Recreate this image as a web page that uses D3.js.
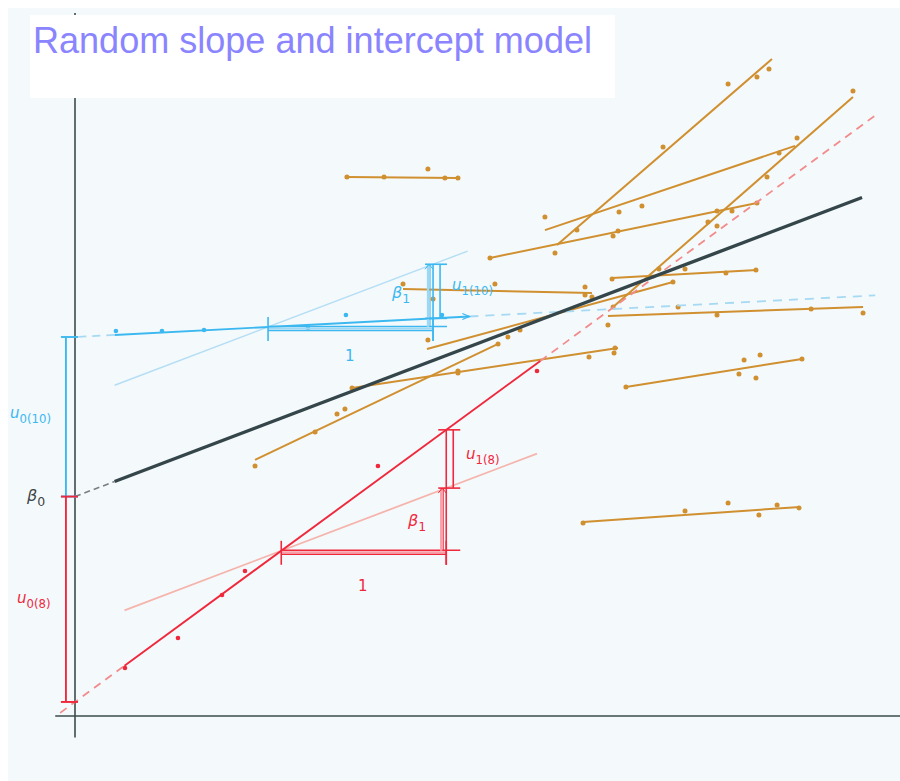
<!DOCTYPE html>
<html>
<head>
<meta charset="utf-8">
<script src="https://cdn.jsdelivr.net/npm/d3@7"></script>
<style>
  html, body { margin: 0; padding: 0; background: #ffffff; }
  svg { display: block; }
</style>
</head>
<body>
<svg id="chart" width="900" height="781"></svg>
<script>
// Fixed part of the model: overall intercept and slope
const fixedEffects = [1.33, 0.38];           // [beta0, beta1]
// Group-specific intercept and slope for the two highlighted groups
const group8Coef = [0.085, 0.733];
const group10Coef = [2.297, 0.052];
// Observations of the highlighted groups [x, y]
const group8Points = [[0.303, 0.291], [0.624, 0.473], [0.891, 0.733], [1.030, 0.879], [1.836, 1.515], [2.800, 2.091]];
const group10Points = [[0.248, 2.333], [0.527, 2.333], [0.782, 2.339], [1.412, 2.352], [1.642, 2.430], [2.224, 2.430]];
// Fitted line segments of the remaining groups [x0, y0, x1, y1]
const otherLines = [
  [2.921, 2.855, 4.224, 3.982],
  [2.848, 2.945, 4.364, 3.455],
  [2.515, 2.776, 4.133, 3.109],
  [3.261, 2.479, 4.715, 3.752],
  [3.255, 2.655, 4.133, 2.703],
  [1.091, 1.552, 2.564, 2.255],
  [3.230, 2.424, 4.776, 2.479],
  [1.988, 2.588, 3.133, 2.564],
  [1.648, 3.267, 2.321, 3.261],
  [3.339, 1.994, 4.406, 2.164],
  [3.079, 1.176, 4.394, 1.267],
  [1.679, 1.988, 3.291, 2.230],
  [2.133, 2.224, 3.624, 2.630]
];
// Observations of the remaining groups, one list per line above
const otherPoints = [
  [[2.909, 2.806], [3.042, 2.945], [3.564, 3.448], [3.958, 3.830], [4.133, 3.873], [4.206, 3.921]],
  [[2.848, 3.024], [3.297, 3.055], [3.436, 3.091], [4.267, 3.412], [4.376, 3.503]],
  [[2.515, 2.776], [3.261, 2.909], [3.291, 2.939], [3.891, 3.061], [3.982, 3.061], [4.133, 3.109]],
  [[3.261, 2.479], [3.539, 2.709], [3.836, 2.994], [3.891, 2.970], [4.194, 3.267], [4.715, 3.788]],
  [[3.255, 2.648], [3.697, 2.709], [3.945, 2.685], [4.127, 2.703]],
  [[1.091, 1.515], [1.455, 1.721], [1.588, 1.830], [1.636, 1.861], [2.321, 2.091], [2.564, 2.255]],
  [[3.230, 2.370], [3.655, 2.479], [3.891, 2.430], [4.461, 2.467], [4.776, 2.442]],
  [[1.988, 2.618], [2.170, 2.527], [2.545, 2.618], [3.091, 2.600], [3.091, 2.552], [3.133, 2.539]],
  [[1.648, 3.267], [1.873, 3.267], [2.139, 3.315], [2.242, 3.261], [2.321, 3.261]],
  [[3.339, 1.994], [4.024, 2.073], [4.055, 2.158], [4.127, 2.048], [4.152, 2.188], [4.406, 2.164]],
  [[3.079, 1.170], [3.697, 1.242], [3.958, 1.291], [4.145, 1.218], [4.255, 1.279], [4.388, 1.261]],
  [[1.679, 1.988], [2.321, 2.079], [3.115, 2.176], [3.267, 2.200], [3.273, 2.230]],
  [[2.139, 2.279], [2.624, 2.297], [2.697, 2.339], [3.624, 2.630]]
];
// Where each highlighted group shows its unit step
const triangleStart = [1.25, 1.17];          // [group 8, group 10]
// x extents: solid parts of the fitted lines
const solidRange = [0.24, 4.77];             // overall line
const group8Solid = [0.30, 2.82];
const group10Solid = [0.24, 2.39];
const axisExtent = [-0.12, 5.0];             // x axis
const yAxisExtent = [-0.13, 4.26];           // y axis

const svg = d3.select("#chart");
const x = d3.scaleLinear().domain([0, 1]).range([75, 240]);
const y = d3.scaleLinear().domain([0, 1]).range([716, 551]);

const C = {
  bg: "#f4f9fc", axis: "#3d4b4b", mean: "#34464a", orange: "#d09030",
  red: "#f0283c", redLight: "#f5b4ac", redDash: "#f28c8c",
  blue: "#3cb8f0", blueLight: "#b4def4", blueDash: "#a6d9f3",
  title: "#8a84ff"
};

svg.append("rect").attr("x", 8).attr("y", 8).attr("width", 892).attr("height", 773).attr("fill", C.bg);

const fmean = (xx) => fixedEffects[0] + fixedEffects[1] * xx;
const f8 = (xx) => group8Coef[0] + group8Coef[1] * xx;
const f10 = (xx) => group10Coef[0] + group10Coef[1] * xx;

function seg(g, x0, y0, x1, y1, color, width, dash) {
  const l = g.append("line")
    .attr("x1", x(x0)).attr("y1", y(y0)).attr("x2", x(x1)).attr("y2", y(y1))
    .attr("stroke", color).attr("stroke-width", width).attr("stroke-linecap", "butt");
  if (dash) l.attr("stroke-dasharray", dash);
  return l;
}
function fline(g, f, x0, x1, color, width, dash) {
  return seg(g, x0, f(x0), x1, f(x1), color, width, dash);
}

// Axes
const axes = svg.append("g");
axes.append("line").attr("x1", x(0)).attr("x2", x(0)).attr("y1", y(yAxisExtent[1])).attr("y2", y(yAxisExtent[0]))
  .attr("stroke", C.axis).attr("stroke-width", 1.6);
axes.append("line").attr("x1", x(axisExtent[0])).attr("x2", x(axisExtent[1])).attr("y1", y(0)).attr("y2", y(0))
  .attr("stroke", C.axis).attr("stroke-width", 1.6);

// Title box
svg.append("rect").attr("x", 30).attr("y", 15).attr("width", 585).attr("height", 83).attr("fill", "#ffffff");
svg.append("text").attr("x", 33).attr("y", 53)
  .attr("font-family", "Liberation Sans, Arial, sans-serif").attr("font-size", 37)
  .attr("fill", C.title).attr("textLength", 559).attr("lengthAdjust", "spacingAndGlyphs")
  .text("Random slope and intercept model");

// Other groups
const og = svg.append("g");
otherLines.forEach((s, i) => {
  seg(og, s[0], s[1], s[2], s[3], C.orange, 2);
  og.selectAll(null).data(otherPoints[i]).enter().append("circle")
    .attr("cx", d => x(d[0])).attr("cy", d => y(d[1])).attr("r", 2.5).attr("fill", C.orange);
});

// Light reference lines with the overall slope through each triangle start
const ref = svg.append("g");
const t8 = triangleStart[0], t10 = triangleStart[1];
fline(ref, xx => f8(t8) + fixedEffects[1] * (xx - t8), group8Solid[0], 2.80, C.redLight, 1.8);
fline(ref, xx => f10(t10) + fixedEffects[1] * (xx - t10), 0.24, 2.38, C.blueLight, 1.4);

// Dashed extensions
fline(ref, f8, -0.09, group8Solid[0], C.redDash, 1.8, "8,6");
fline(ref, f8, group8Solid[1], 4.85, C.redDash, 1.8, "8,6");
fline(ref, f10, 0.02, group10Solid[0], C.blueDash, 1.8, "8,6");
fline(ref, f10, group10Solid[1], 4.85, C.blueDash, 1.8, "9,7");
fline(ref, fmean, 0, solidRange[0], "#777f80", 1.6, "6,4");

// Overall line
fline(svg, fmean, solidRange[0], solidRange[1], C.mean, 3.4);

// Group 8
const g8 = svg.append("g");
fline(g8, f8, group8Solid[0], group8Solid[1], C.red, 1.9);
g8.selectAll(null).data(group8Points).enter().append("circle")
  .attr("cx", d => x(d[0])).attr("cy", d => y(d[1])).attr("r", 2.3).attr("fill", C.red);

// Group 10
const g10 = svg.append("g");
fline(g10, f10, group10Solid[0], group10Solid[1], C.blue, 1.9);
g10.selectAll(null).data(group10Points).enter().append("circle")
  .attr("cx", d => x(d[0])).attr("cy", d => y(d[1])).attr("r", 2.3).attr("fill", C.blue);
// arrow tip at the end of the solid part
{
  const ex = x(group10Solid[1]), ey = y(f10(group10Solid[1]));
  g10.append("path").attr("d", `M${ex - 7},${ey - 3} L${ex},${ey} L${ex - 7},${ey + 3}`)
    .attr("fill", "none").attr("stroke", C.blue).attr("stroke-width", 1.3);
}

// Unit-step triangle for a group
function triangle(g, f, t0, color, light) {
  const xa = x(t0), xb = x(t0 + 1);
  const yb = y(f(t0));
  const yMean = y(f(t0) + fixedEffects[1]);
  const yGroup = y(f(t0 + 1));
  const w = 1.6;
  // double base line
  g.append("line").attr("x1", xa).attr("x2", xb + 14).attr("y1", yb - 0.5).attr("y2", yb - 0.5).attr("stroke", color).attr("stroke-width", w);
  g.append("line").attr("x1", xa).attr("x2", xb).attr("y1", yb + 3.5).attr("y2", yb + 3.5).attr("stroke", color).attr("stroke-width", w);
  g.append("line").attr("x1", xa).attr("x2", xb).attr("y1", yb + 1.5).attr("y2", yb + 1.5).attr("stroke", light).attr("stroke-width", 2);
  // end ticks
  [xa, xb].forEach(xx => g.append("line").attr("x1", xx).attr("x2", xx).attr("y1", yb - 10).attr("y2", yb + 14)
    .attr("stroke", color).attr("stroke-width", w));
  // beta1 rise (lighter, inner)
  g.append("line").attr("x1", xb - 5).attr("x2", xb - 5).attr("y1", yb).attr("y2", yMean).attr("stroke", light).attr("stroke-width", 2.4);
  g.append("line").attr("x1", xb - 3).attr("x2", xb - 3).attr("y1", yb).attr("y2", yMean).attr("stroke", color).attr("stroke-width", 1);
  g.append("path").attr("d", `M${xb - 8},${yMean + 5} L${xb - 4},${yMean} L${xb},${yMean + 5}`)
    .attr("fill", "none").attr("stroke", color).attr("stroke-width", 1);
  // full vertical to the group line
  const top = Math.min(yMean, yGroup);
  g.append("line").attr("x1", xb).attr("x2", xb).attr("y1", top).attr("y2", yb + 14).attr("stroke", color).attr("stroke-width", w);
  // group deviation bracket
  const xu = xb + 7;
  g.append("line").attr("x1", xu).attr("x2", xu).attr("y1", yMean).attr("y2", yGroup).attr("stroke", color).attr("stroke-width", w);
  g.append("line").attr("x1", xb - 8).attr("x2", xu + 7).attr("y1", yGroup).attr("y2", yGroup).attr("stroke", color).attr("stroke-width", w);
  g.append("line").attr("x1", xb - 8).attr("x2", xu + 7).attr("y1", yMean).attr("y2", yMean).attr("stroke", color).attr("stroke-width", w);
}
triangle(g8, f8, t8, C.red, "#f7a0a8");
triangle(g10, f10, t10, C.blue, "#9fd8f5");

// Intercept deviations on the left
const dev = svg.append("g");
const xd = x(-0.055);
function vbar(y0, y1, color) {
  dev.append("line").attr("x1", xd).attr("x2", xd).attr("y1", y(y0)).attr("y2", y(y1)).attr("stroke", color).attr("stroke-width", 1.9);
  [y0, y1].forEach(v => dev.append("line").attr("x1", xd - 5).attr("x2", x(0) + 3).attr("y1", y(v)).attr("y2", y(v))
    .attr("stroke", color).attr("stroke-width", 1.9));
}
vbar(fixedEffects[0], group10Coef[0], C.blue);
vbar(group8Coef[0], fixedEffects[0], C.red);

// Labels
const font = "DejaVu Sans, sans-serif";
function sublabel(px, py, main, sub, color, size, italicMain) {
  const t = svg.append("text").attr("x", px).attr("y", py).attr("font-family", font)
    .attr("font-size", size).attr("fill", color);
  t.append("tspan").attr("font-style", italicMain ? "italic" : "normal").text(main);
  t.append("tspan").attr("dy", size * 0.3).attr("font-size", size * 0.78).text(sub);
  return t;
}
sublabel(10, 418, "u", "0(10)", C.blue, 15, true);
sublabel(27, 501, "β", "0", "#3d4545", 16, true);
sublabel(17, 603, "u", "0(8)", C.red, 15, true);
sublabel(392, 298, "β", "1", C.blue, 16, true);
sublabel(452, 290, "u", "1(10)", C.blue, 15, true);
sublabel(408, 526, "β", "1", C.red, 16, true);
sublabel(466, 459, "u", "1(8)", C.red, 15, true);
svg.append("text").attr("x", 345).attr("y", 361).attr("font-family", font).attr("font-size", 15).attr("fill", C.blue).text("1");
svg.append("text").attr("x", 358).attr("y", 591).attr("font-family", font).attr("font-size", 15).attr("fill", C.red).text("1");
</script>
</body>
</html>
